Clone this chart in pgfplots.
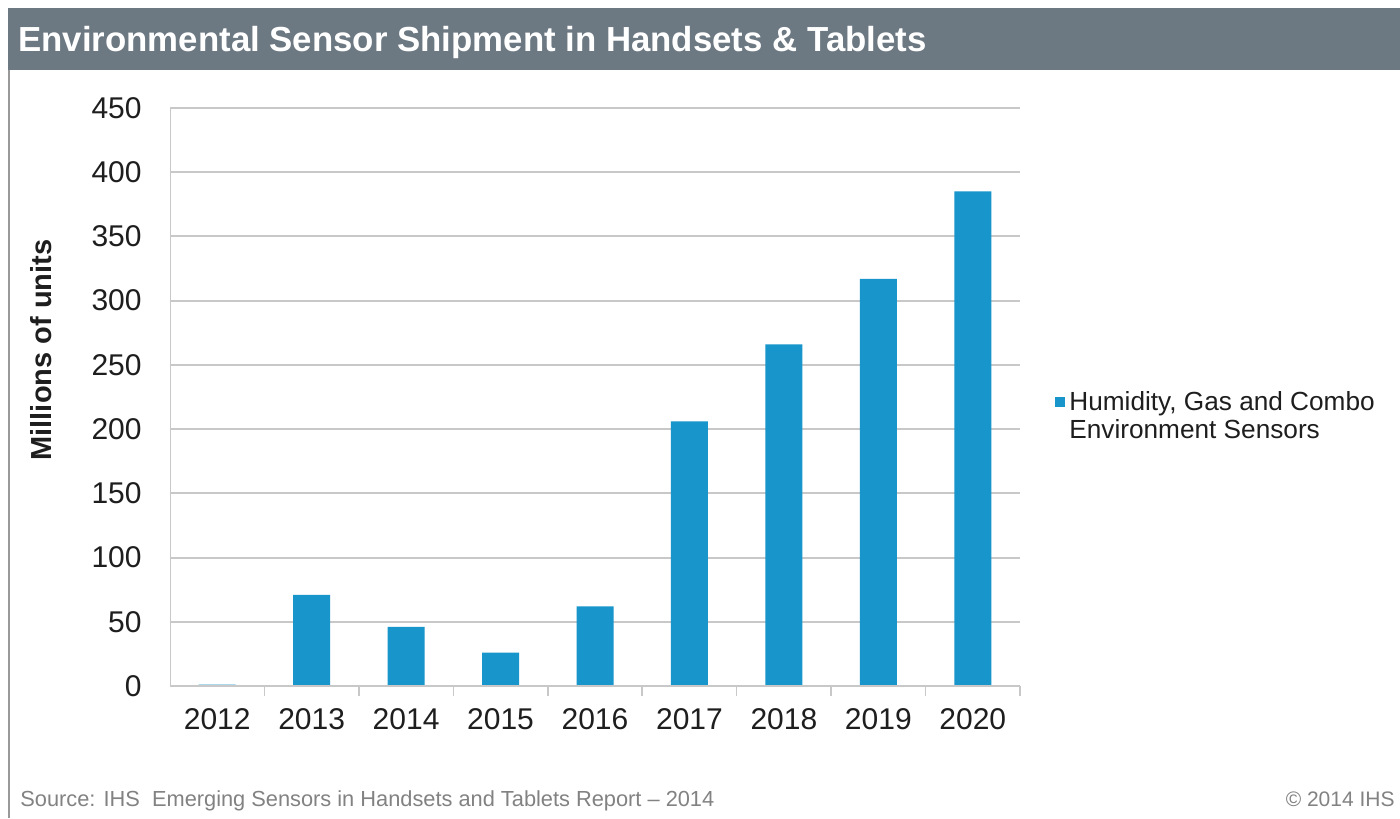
\documentclass[border=0pt]{standalone}
\usepackage{fontspec}
\setmainfont{Liberation Sans}
\usepackage{pgfplots}
\pgfplotsset{compat=1.18}
\definecolor{barblue}{RGB}{24,150,204}
\definecolor{titlegrey}{RGB}{108,120,130}
\definecolor{gridgrey}{RGB}{200,200,200}
\definecolor{txt}{RGB}{30,30,30}
\definecolor{srcgrey}{RGB}{130,130,130}
\begin{document}
\begin{tikzpicture}[x=1pt,y=1pt]
\useasboundingbox (0,0) rectangle (700,409);
\fill[white] (0,0) rectangle (700,409);
\fill[titlegrey] (4,374) rectangle (700,405);
\draw[gray!80, line width=1.2pt] (4.6,0) -- (4.6,374);
\node[anchor=base west, text=white, font=\fontsize{17.4}{19}\selectfont\bfseries, inner sep=0pt] at (9,383) {Environmental Sensor Shipment in Handsets \& Tablets};
\node[rotate=90, font=\fontsize{14.5}{16}\selectfont\bfseries, text=txt] at (20.5,234) {Millions of units};
\node[anchor=base west, inner sep=0pt, text=srcgrey, font=\fontsize{10.9}{12}\selectfont] at (10,6) {Source: IHS\ \ Emerging Sensors in Handsets and Tablets Report -- 2014};
\node[anchor=base east, inner sep=0pt, text=srcgrey, font=\fontsize{10.5}{12}\selectfont] at (697.5,6) {\textcopyright\ 2014 IHS};
\begin{axis}[
  at={(85pt,66pt)}, anchor=south west, scale only axis,
  width=425pt, height=289pt,
  xmin=-0.5, xmax=8.5, ymin=0, ymax=450,
  axis line style={draw=none},
  xtick pos=bottom, ytick pos=left,
  tick align=inside,
  ytick={0,50,...,450},
  xtick={0,...,8},
  xticklabels={2012,2013,2014,2015,2016,2017,2018,2019,2020},
  major tick length=0pt,
  minor xtick={0.5,1.5,...,7.5,8.5},
  minor tick length=5pt,
  minor tick style={gridgrey, line width=0.8pt},
  ymajorgrids, grid style={gridgrey, line width=1pt},
  /pgf/number format/assume math mode=true,
  tick label style={font=\fontsize{15}{17}\selectfont, text=txt},
  yticklabel style={anchor=east, inner sep=0pt, xshift=-14pt},
  xticklabel style={anchor=north, inner sep=0pt, yshift=-11pt},
  ybar, bar width=18.5pt,
  legend style={at={(rel axis cs:1.0412,0.5114)}, anchor=north west, draw=none, fill=none,
    inner sep=0pt, row sep=0pt, nodes={inner sep=0pt, anchor=base west},
    font=\fontsize{13.1}{14}\selectfont, text=txt,
    /tikz/every odd column/.append style={column sep=2pt}},
  legend image code/.code={\fill[barblue] (0pt,1.5pt) rectangle (5pt,6.5pt);},
]
\addplot[fill=barblue, draw=none] coordinates {(0,1) (1,71) (2,46) (3,26) (4,62) (5,206) (6,266) (7,317) (8,385)};
\addlegendentry{\begin{tabular}[t]{@{}l@{}}Humidity, Gas and Combo\\Environment Sensors\end{tabular}}
\draw[gridgrey, line width=1pt] (rel axis cs:0,1) -- (rel axis cs:0,0) -- (rel axis cs:1,0);
\end{axis}
\end{tikzpicture}
\end{document}
